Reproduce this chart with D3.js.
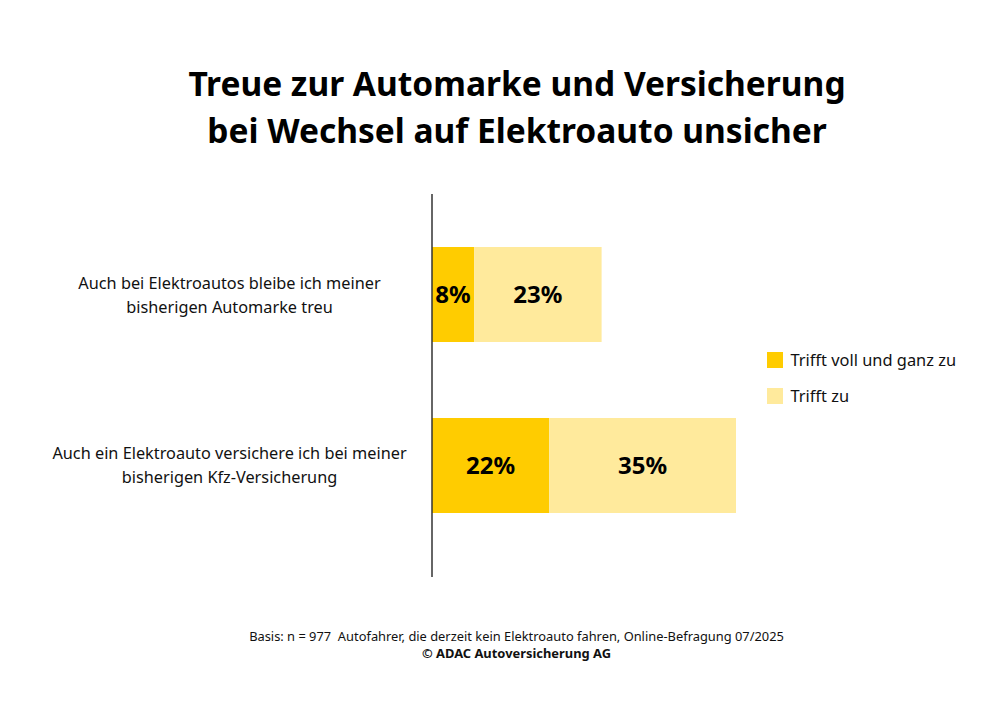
<!DOCTYPE html>
<html lang="de">
<head>
<meta charset="utf-8">
<title>Treue zur Automarke und Versicherung</title>
<script src="https://cdn.jsdelivr.net/npm/d3@7"></script>
<style>
  html, body { margin: 0; padding: 0; background: #fff; }
  svg { display: block; font-family: "Noto Sans", sans-serif; }
</style>
</head>
<body>
<svg id="chart" width="1007" height="727"></svg>
<script>
// --- Data ---
var categories = ["marke", "versicherung"];
var categoryLines = [
  ["Auch bei Elektroautos bleibe ich meiner", "bisherigen Automarke treu"],
  ["Auch ein Elektroauto versichere ich bei meiner", "bisherigen Kfz-Versicherung"]
];
var seriesNames = ["Trifft voll und ganz zu", "Trifft zu"];
// bar lengths as drawn in the picture (the second bar of the first row runs a bit longer than its label)
var valuesVoll = [7.9, 22];
var valuesZu = [23.9, 35];
var labelsVoll = ["8%", "22%"];
var labelsZu = ["23%", "35%"];
var titleLines = ["Treue zur Automarke und Versicherung", "bei Wechsel auf Elektroauto unsicher"];
var footnote = "Basis: n = 977  Autofahrer, die derzeit kein Elektroauto fahren, Online-Befragung 07/2025";
var copyright = "© ADAC Autoversicherung AG";

var COLORS = ["#ffcc00", "#ffea9c"];
var INK = "#000";

var svg = d3.select("#chart");

// --- Scales ---
var x = d3.scaleLinear().domain([0, 57]).range([432, 736]);
var y = d3.scaleBand().domain(categories).range([204.25, 555.75]).paddingInner(0.4444).paddingOuter(0.25);

// --- Title ---
svg.append("g").selectAll("text").data(titleLines).join("text")
  .attr("x", 517)
  .attr("y", function (d, i) { return 96 + i * 47; })
  .attr("text-anchor", "middle")
  .attr("font-size", 33.5)
  .attr("font-weight", 700)
  .attr("fill", INK)
  .text(function (d) { return d; });

// --- Bars ---
var rows = categories.map(function (c, i) {
  return { cat: c, lines: categoryLines[i], a: valuesVoll[i], b: valuesZu[i], la: labelsVoll[i], lb: labelsZu[i] };
});

var row = svg.append("g").selectAll("g").data(rows).join("g");

row.append("rect")
  .attr("x", x(0))
  .attr("y", function (d) { return y(d.cat); })
  .attr("width", function (d) { return x(d.a) - x(0); })
  .attr("height", y.bandwidth())
  .attr("fill", COLORS[0]);

row.append("rect")
  .attr("x", function (d) { return x(d.a); })
  .attr("y", function (d) { return y(d.cat); })
  .attr("width", function (d) { return x(d.a + d.b) - x(d.a); })
  .attr("height", y.bandwidth())
  .attr("fill", COLORS[1]);

// value labels
function valueLabel(text, pos) {
  row.append("text")
    .attr("x", pos)
    .attr("y", function (d) { return y(d.cat) + y.bandwidth() / 2 + 8.5; })
    .attr("text-anchor", "middle")
    .attr("font-size", 24)
    .attr("font-weight", 700)
    .attr("fill", INK)
    .text(text);
}
valueLabel(function (d) { return d.la; }, function (d) { return x(d.a / 2); });
valueLabel(function (d) { return d.lb; }, function (d) { return x(d.a + d.b / 2); });

// category labels
row.append("g").selectAll("text")
  .data(function (d) { return d.lines.map(function (t, i) { return { t: t, i: i, cat: d.cat }; }); })
  .join("text")
  .attr("x", 229.5)
  .attr("y", function (d) { return y(d.cat) + y.bandwidth() / 2 - 6 + d.i * 24; })
  .attr("text-anchor", "middle")
  .attr("font-size", 16.3)
  .attr("fill", "#111")
  .text(function (d) { return d.t; });

// --- Axis line ---
svg.append("line")
  .attr("x1", x(0)).attr("x2", x(0))
  .attr("y1", 194).attr("y2", 577)
  .attr("stroke", "#333")
  .attr("stroke-width", 1.5);

// --- Legend ---
var legend = svg.append("g").selectAll("g").data(seriesNames).join("g")
  .attr("transform", function (d, i) { return "translate(767," + (352 + i * 36) + ")"; });

legend.append("rect")
  .attr("width", 16)
  .attr("height", 16)
  .attr("fill", function (d, i) { return COLORS[i]; });

legend.append("text")
  .attr("x", 23.5)
  .attr("y", 14)
  .attr("font-size", 16.4)
  .attr("fill", "#111")
  .text(function (d) { return d; });

// --- Footer ---
svg.append("text")
  .attr("x", 516.5).attr("y", 641)
  .attr("text-anchor", "middle")
  .attr("font-size", 12.86)
  .attr("fill", "#111")
  .attr("xml:space", "preserve")
  .style("white-space", "pre")
  .text(footnote);

svg.append("text")
  .attr("x", 516.5).attr("y", 658)
  .attr("text-anchor", "middle")
  .attr("font-size", 12.9)
  .attr("font-weight", 700)
  .attr("fill", "#111")
  .text(copyright);
</script>
</body>
</html>
